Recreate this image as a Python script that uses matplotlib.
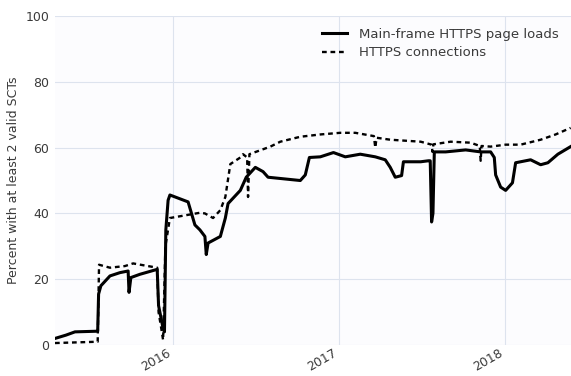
import numpy as np
import pandas as pd
import matplotlib
matplotlib.use("Agg")
from matplotlib import pyplot as plt
import matplotlib.dates as mdates

# Main-frame HTTPS page loads (breakpoints)
page_dates = ['2015-04-16', '2015-05-10', '2015-05-30', '2015-07-19', '2015-07-21',
              '2015-07-26', '2015-08-15', '2015-09-06', '2015-09-24', '2015-09-26',
              '2015-09-30', '2015-10-20', '2015-11-27', '2015-11-30', '2015-12-10',
              '2015-12-13', '2015-12-16', '2015-12-21', '2015-12-25', '2016-02-03',
              '2016-02-18', '2016-02-29', '2016-03-11', '2016-03-14', '2016-03-18',
              '2016-04-14', '2016-04-25', '2016-05-01', '2016-05-28', '2016-06-10',
              '2016-06-30', '2016-07-17', '2016-07-28', '2016-10-07', '2016-10-18',
              '2016-10-27', '2016-11-20', '2016-12-19', '2017-01-14', '2017-02-16',
              '2017-03-21', '2017-04-12', '2017-04-23', '2017-05-04', '2017-05-18',
              '2017-05-22', '2017-06-29', '2017-07-16', '2017-07-20', '2017-07-23',
              '2017-07-26', '2017-07-29', '2017-08-23', '2017-10-06', '2017-11-08',
              '2017-11-30', '2017-12-08', '2017-12-11', '2017-12-22', '2018-01-02',
              '2018-01-17', '2018-01-24', '2018-02-26', '2018-03-20', '2018-04-05',
              '2018-04-27', '2018-05-25']
page_vals = [2.0, 3.0, 4.0, 4.2, 15.5,
             18.0, 21.0, 22.0, 22.5, 16.0,
             20.5, 21.5, 23.0, 12.0, 5.0,
             4.0, 35.0, 44.0, 45.6, 43.5,
             36.5, 35.0, 33.0, 27.5, 31.0,
             33.0, 38.6, 43.0, 47.0, 51.0,
             54.0, 52.7, 51.0, 50.0, 51.7,
             57.0, 57.2, 58.5, 57.2, 58.0,
             57.2, 56.3, 54.0, 51.0, 51.5,
             55.7, 55.7, 56.0, 56.0, 37.4,
             40.0, 58.7, 58.7, 59.3, 58.7,
             58.7, 57.0, 51.7, 48.0, 47.0,
             49.3, 55.4, 56.3, 54.8, 55.4,
             58.0, 60.3]

# HTTPS connections
conn_dates = ['2015-04-16', '2015-07-19', '2015-07-22', '2015-08-15', '2015-09-17',
              '2015-10-05', '2015-11-27', '2015-11-30', '2015-12-06', '2015-12-10',
              '2015-12-15', '2015-12-25', '2016-02-29', '2016-03-11', '2016-03-29',
              '2016-04-14', '2016-04-25', '2016-05-06', '2016-05-28', '2016-06-03',
              '2016-06-12', '2016-06-14', '2016-06-17', '2016-08-02', '2016-08-24',
              '2016-10-07', '2016-11-20', '2017-01-03', '2017-02-05', '2017-03-18',
              '2017-03-21', '2017-03-24', '2017-04-23', '2017-06-29', '2017-07-23',
              '2017-07-25', '2017-07-27', '2017-09-03', '2017-10-17', '2017-11-06',
              '2017-11-08', '2017-11-10', '2017-11-30', '2018-01-02', '2018-02-04',
              '2018-03-20', '2018-04-22', '2018-05-25']
conn_vals = [0.6, 1.0, 24.4, 23.5, 24.0,
             24.8, 23.5, 10.0, 5.0, 1.5,
             30.0, 38.6, 40.2, 40.0, 38.6,
             41.0, 45.0, 55.0, 57.0, 58.0,
             57.0, 45.0, 58.0, 60.3, 61.8,
             63.3, 64.0, 64.5, 64.5, 63.5,
             60.0, 63.0, 62.4, 61.8, 60.9,
             58.7, 61.0, 61.8, 61.5, 60.5,
             56.0, 60.5, 60.3, 60.9, 60.9,
             62.4, 64.0, 66.0]

year_ticks = ['2016-01-01', '2017-01-01', '2018-01-01']
year_labels = ['2016', '2017', '2018']

text_col = '#3a3a3a'
grid_col = '#dde3ee'

fig = plt.figure(figsize=(5.71, 3.76), dpi=100)
ax = fig.add_axes([0.0963, 0.0824, 0.903, 0.875])
ax.set_facecolor('#fcfcfe')

ax.plot(pd.to_datetime(page_dates), page_vals, color='black', lw=2.2,
        label='Main-frame HTTPS page loads')
ax.plot(pd.to_datetime(conn_dates), conn_vals, color='black', lw=1.7,
        linestyle=(0, (2, 1.6)), label='HTTPS connections')

ax.set_xlim(pd.Timestamp(page_dates[0]), pd.Timestamp(page_dates[-1]))
ax.set_ylim(0, 100)
ax.set_yticks([0, 20, 40, 60, 80, 100])
ax.set_xticks(pd.to_datetime(year_ticks))
ax.set_xticklabels(year_labels, rotation=30, ha='right')

ax.grid(True, color=grid_col, lw=0.8)
ax.set_axisbelow(True)
for s in ax.spines.values():
    s.set_visible(False)
ax.tick_params(length=0, labelsize=9, colors=text_col, pad=4)
ax.tick_params(axis='x', pad=1)
ax.set_ylabel('Percent with at least 2 valid SCTs', fontsize=9, color=text_col)

leg = ax.legend(loc='upper right', frameon=False, fontsize=9.5, handlelength=1.9,
                handletextpad=0.9, borderaxespad=0.5, labelspacing=0.4)
for t in leg.get_texts():
    t.set_color(text_col)

fig.savefig('out.png', dpi=100)
